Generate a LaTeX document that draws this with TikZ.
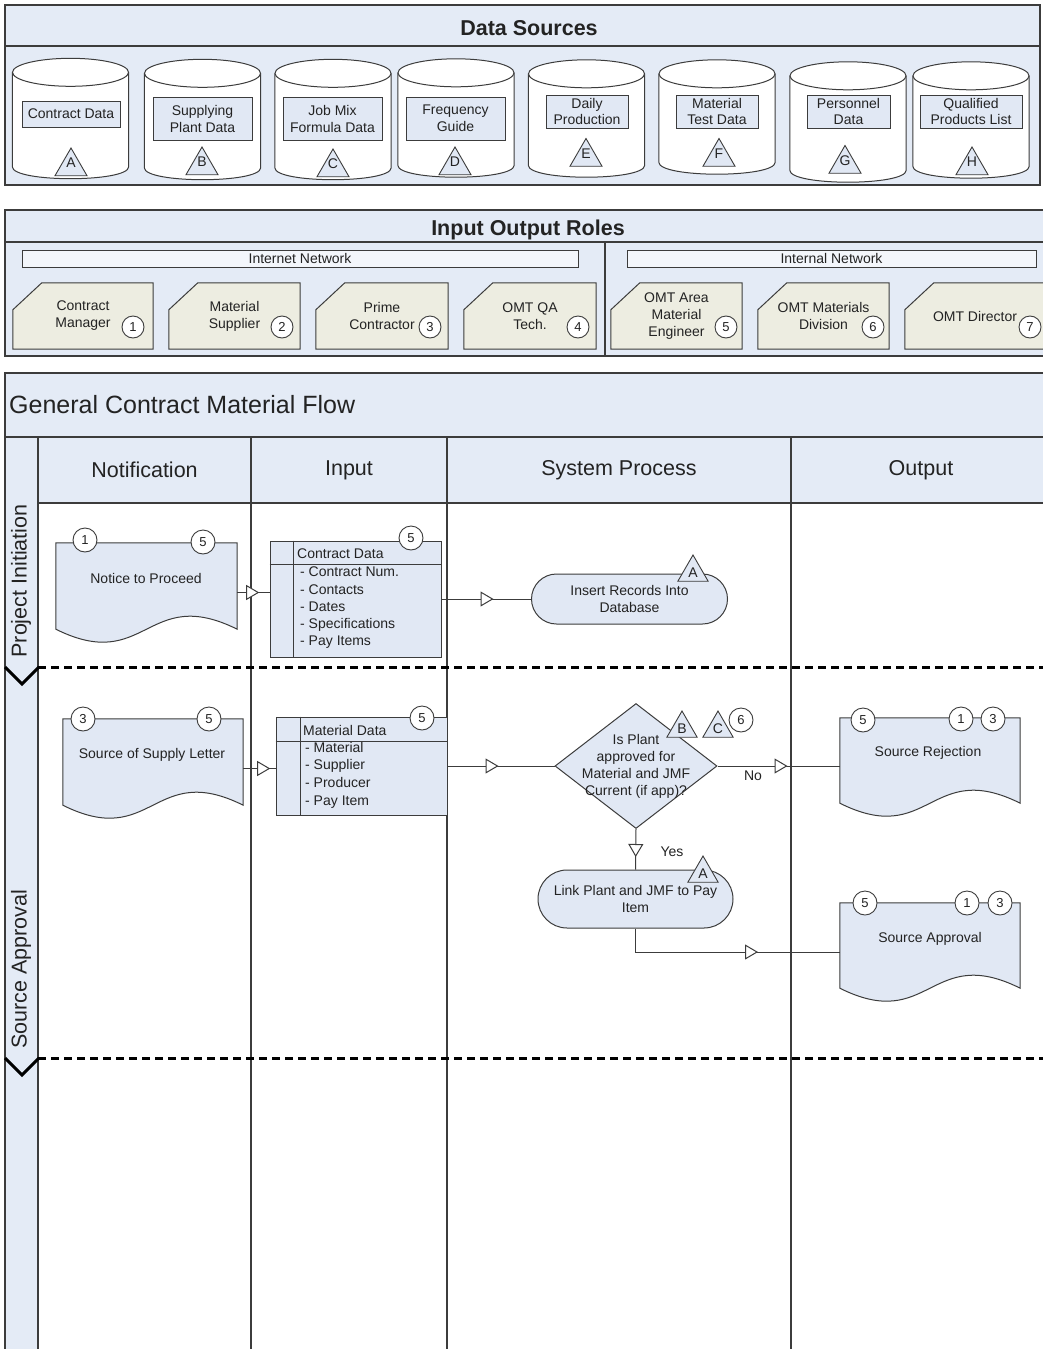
\documentclass[tikz,border=0pt]{standalone}
\usepackage{fontspec}
\setmainfont{Liberation Sans}
\usetikzlibrary{shapes.geometric,arrows.meta,decorations.markings,calc}
\pgfdeclarelayer{bg}
\pgfdeclarelayer{shp}
\pgfsetlayers{bg,shp,main}
\definecolor{panelblue}{RGB}{228,235,246}
\definecolor{shapeblue}{RGB}{225,232,244}
\definecolor{rolebeige}{RGB}{237,237,225}
\definecolor{netfill}{RGB}{243,246,251}
\definecolor{edge}{RGB}{60,60,60}
\definecolor{txt}{RGB}{35,35,35}
\newcommand\cylshape[1]{%
  \draw[draw=edge, fill=white, line width=1pt]
    ($(#1.north west)+(0,14)$) -- ($(#1.south west)+(0,-12)$)
    .. controls ($(#1.south west)+(0,4)$) and ($(#1.south east)+(0,4)$) ..
    ($(#1.south east)+(0,-12)$) -- ($(#1.north east)+(0,14)$);
  \draw[draw=edge, fill=white, line width=1pt] ($(#1.north)+(0,14)$) ellipse [x radius=58, y radius=14];}
\newcommand\docshape[1]{%
  \draw[draw=edge, fill=shapeblue, line width=1pt]
    (#1.north west) -- (#1.north east) -- ($(#1.south east)+(0,-13)$)
    .. controls ($(#1.south)+(0,-58)$) and ($(#1.south)+(0,32)$) ..
    ($(#1.south west)+(0,-13)$) -- cycle;}
\newcommand\cutshape[1]{%
  \draw[draw=edge, fill=rolebeige, line width=1pt]
    ($(#1.north west)+(29,0)$) -- (#1.north east) -- (#1.south east) -- (#1.south west) -- ($(#1.north west)+(0,27)$) -- cycle;}
\newcommand\dsletter[1]{\raisebox{-1pt}[0pt][0pt]{#1}}
\begin{document}
\begin{tikzpicture}[x=1pt,y=-1pt,
  base/.style={text=txt, font=\fontsize{14}{17}\selectfont, inner sep=0pt, align=center},
  hidden/.style={base, rectangle, draw=none, fill=none},
  dsbox/.style={base, rectangle, draw=edge, fill=shapeblue, line width=1pt},
  tri/.style={base, regular polygon, regular polygon sides=3, draw=edge, fill=shapeblue, line width=0.9pt, minimum size=37pt},
  ftri/.style={tri, minimum size=35pt},
  numc/.style={base, circle, draw=edge, fill=white, line width=0.9pt, minimum size=22pt, font=\fontsize{13}{15}\selectfont},
  fnum/.style={numc, minimum size=24pt},
  term/.style={base, rectangle, draw=edge, fill=shapeblue, line width=1pt},
  panel/.style={draw=edge, fill=panelblue, line width=1.2pt},
  pline/.style={draw=edge, line width=1.2pt},
  colline/.style={draw=edge, line width=1.6pt},
  lanesep/.style={draw=black, line width=3pt, dash pattern=on 8pt off 5pt},
  chev/.style={draw=black, line width=3pt},
  bigtitle/.style={text=txt, font=\fontsize{21.5}{26}\selectfont\bfseries, inner sep=0pt},
  head/.style={text=txt, font=\fontsize{21.5}{26}\selectfont, inner sep=0pt},
  netbar/.style={base, rectangle, draw=edge, fill=netfill, line width=1pt, minimum height=17pt},
  flowat/.style={draw=edge, line width=1pt, postaction={decorate},
    decoration={markings, mark=at position #1 with {\arrow{Triangle[length=13pt, width=15pt, fill=white]}}}}
]
\useasboundingbox (0,0) rectangle (1042,1349);

% ---------------- panels (background) ----------------
\begin{pgfonlayer}{bg}
  \fill[white] (0,0) rectangle (1042,1349);
  % Data Sources
  \draw[panel] (5,5) rectangle (1040,185);
  \draw[pline] (5,46) -- (1040,46);
  % Input Output Roles
  \draw[panel] (5,210) rectangle (1050,356);
  \draw[pline] (5,242) -- (1050,242);
  \draw[pline] (605,242) -- (605,356);
  % General Contract Material Flow
  \draw[panel] (5,373) rectangle (1050,1365);
  \fill[white] (38,503) rectangle (1050,1365);
  \draw[pline] (5,437) -- (1050,437);
  \draw[colline] (38,503) -- (1050,503);
  \draw[colline] (38,437) -- (38,1365);
  \draw[colline] (251,437) -- (251,1365);
  \draw[colline] (447,437) -- (447,1365);
  \draw[colline] (791,437) -- (791,1365);
  \draw[lanesep] (38,667) -- (1050,667);
  \draw[lanesep] (38,1058) -- (1050,1058);
  \draw[chev] (5,667) -- (22,684) -- (39,667);
  \draw[chev] (5,1058) -- (22,1075) -- (39,1058);
\end{pgfonlayer}

% ---------------- Data Sources ----------------
\node[bigtitle] (dstitle) at (529,28) {Data Sources};

\node[hidden, minimum width=116pt, minimum height=120pt] (ds1) at (70.5,118.5) {};
\node[hidden, minimum width=116pt, minimum height=120pt] (ds2) at (202.5,119.5) {};
\node[hidden, minimum width=116pt, minimum height=120pt] (ds3) at (333,119.5) {};
\node[hidden, minimum width=116pt, minimum height=118pt] (ds4) at (456,118) {};
\node[hidden, minimum width=116pt, minimum height=117pt] (ds5) at (586.5,118.5) {};
\node[hidden, minimum width=116pt, minimum height=114pt] (ds6) at (717,117) {};
\node[hidden, minimum width=116pt, minimum height=120pt] (ds7) at (848,122) {};
\node[hidden, minimum width=116pt, minimum height=116pt] (ds8) at (971,120) {};
\begin{pgfonlayer}{shp}
  \cylshape{ds1}\cylshape{ds2}\cylshape{ds3}\cylshape{ds4}
  \cylshape{ds5}\cylshape{ds6}\cylshape{ds7}\cylshape{ds8}
\end{pgfonlayer}

\node[dsbox, minimum width=98pt, minimum height=26pt] (ds1l) at (71,114) {Contract Data};
\node[dsbox, minimum width=99pt, minimum height=43pt] (ds2l) at (202.5,118.5) {Supplying\\Plant Data};
\node[dsbox, minimum width=99pt, minimum height=43pt] (ds3l) at (332.5,118.5) {Job Mix\\Formula Data};
\node[dsbox, minimum width=99pt, minimum height=43pt] (ds4l) at (455.5,118.5) {Frequency\\Guide};
\node[dsbox, minimum width=82pt, minimum height=33pt, font=\fontsize{14}{16}\selectfont] (ds5l) at (587,111.5) {Daily\\Production};
\node[dsbox, minimum width=82pt, minimum height=33pt, font=\fontsize{14}{16}\selectfont] (ds6l) at (717,111.5) {Material\\Test Data};
\node[dsbox, minimum width=83pt, minimum height=33pt, font=\fontsize{14}{16}\selectfont] (ds7l) at (848.5,111.5) {Personnel\\Data};
\node[dsbox, minimum width=102pt, minimum height=33pt, font=\fontsize{14}{16}\selectfont] (ds8l) at (971,111.5) {Qualified\\Products List};

\node[tri] (dsA) at (71,166.5) {\dsletter{A}};
\node[tri] (dsB) at (202,165.5) {\dsletter{B}};
\node[tri] (dsC) at (333,167.5) {\dsletter{C}};
\node[tri] (dsD) at (455,165.5) {\dsletter{D}};
\node[tri] (dsE) at (586,157) {\dsletter{E}};
\node[tri] (dsF) at (719,157) {\dsletter{F}};
\node[tri] (dsG) at (845,164) {\dsletter{G}};
\node[tri] (dsH) at (972,165.5) {\dsletter{H}};

% ---------------- Input Output Roles ----------------
\node[bigtitle] (iotitle) at (528,230) {Input Output Roles};
\node[netbar, minimum width=556pt] (inet) at (300,258.5) {Internet Network};
\node[netbar, minimum width=409pt] (intnet) at (831.5,258.5) {Internal Network};

\node[hidden, minimum width=140pt, minimum height=66pt] (r1) at (83,316) {Contract\\Manager};
\node[hidden, minimum width=131pt, minimum height=66pt] (r2) at (234.5,316) {Material\\Supplier};
\node[hidden, minimum width=132pt, minimum height=66pt] (r3) at (382,316) {Prime\\Contractor};
\node[hidden, minimum width=132pt, minimum height=66pt] (r4) at (530,316) {OMT QA\\Tech.};
\node[hidden, minimum width=131pt, minimum height=66pt] (r5) at (676.5,316) {OMT Area\\Material\\Engineer};
\node[hidden, minimum width=131pt, minimum height=66pt] (r6) at (823.5,316) {OMT Materials\\Division};
\node[hidden, minimum width=140pt, minimum height=66pt] (r7) at (975,316) {OMT Director};
\begin{pgfonlayer}{shp}
  \cutshape{r1}\cutshape{r2}\cutshape{r3}\cutshape{r4}\cutshape{r5}\cutshape{r6}\cutshape{r7}
\end{pgfonlayer}
\node[numc] (c1) at (133,327) {1};
\node[numc] (c2) at (282,327) {2};
\node[numc] (c3) at (430,327) {3};
\node[numc] (c4) at (578,327) {4};
\node[numc] (c5) at (726,327) {5};
\node[numc] (c6) at (873,327) {6};
\node[numc] (c7) at (1030,327) {7};

% ---------------- General Contract Material Flow ----------------
\node[head, font=\fontsize{25}{30}\selectfont, anchor=west] (ftitle) at (9,405) {General Contract Material Flow};
\node[head] (hnot) at (144.5,470) {Notification};
\node[head] (hin) at (349,470) {Input};
\node[head] (hsys) at (619,470) {System Process};
\node[head] (hout) at (921,470) {Output};
\node[head, rotate=90] (lane1) at (21,581) {Project Initiation};
\node[head, rotate=90] (lane2) at (21,969) {Source Approval};

% documents
\node[hidden, minimum width=181pt, minimum height=99pt] (notice) at (146.5,592.5) {};
\node[hidden, minimum width=180pt, minimum height=99pt] (supply) at (153,768.5) {};
\node[hidden, minimum width=180pt, minimum height=98pt] (reject) at (930,767) {};
\node[hidden, minimum width=180pt, minimum height=98pt] (approve) at (930,952) {};
\begin{pgfonlayer}{shp}
  \docshape{notice}\docshape{supply}\docshape{reject}\docshape{approve}
\end{pgfonlayer}
\node[base] (noticet) at (146,578) {Notice to Proceed};
\node[base] (supplyt) at (152,755) {Source of Supply Letter};
\node[base] (rejectt) at (928,753) {Source Rejection};
\node[base] (approvet) at (930,939) {Source Approval};

% data boxes
\node[dsbox, minimum width=171pt, minimum height=116pt] (cdata) at (355.5,599) {};
\draw[draw=edge, line width=1pt] ($(cdata.north west)+(24,0)$) -- ($(cdata.south west)+(24,0)$);
\draw[draw=edge, line width=1pt] ($(cdata.north west)+(0,24)$) -- ($(cdata.north east)+(0,24)$);
\node[base, anchor=west] (cdatat) at (297,554) {Contract Data};
\node[base, anchor=north west, align=left, font=\fontsize{14}{17.2}\selectfont] (cdatai) at (300,567)
  {- Contract Num.\\- Contacts\\- Dates\\- Specifications\\- Pay Items};

\node[dsbox, minimum width=171pt, minimum height=98pt] (mdata) at (361.5,766) {};
\draw[draw=edge, line width=1pt] ($(mdata.north west)+(25,0)$) -- ($(mdata.south west)+(25,0)$);
\draw[draw=edge, line width=1pt] ($(mdata.north west)+(0,25)$) -- ($(mdata.north east)+(0,25)$);
\node[base, anchor=west] (mdatat) at (303,730) {Material Data};
\node[base, anchor=north west, align=left, font=\fontsize{14}{17.6}\selectfont] (mdatai) at (305,742)
  {- Material\\- Supplier\\- Producer\\- Pay Item};

% process shapes
\node[term, rounded corners=25pt, minimum width=196pt, minimum height=50pt] (insert) at (629.5,599) {Insert Records Into\\Database};
\node[base, diamond, draw=edge, fill=shapeblue, line width=1pt, minimum width=162pt, minimum height=125pt, aspect=1.3] (dec) at (636,766) {};
\node[base] (dect) at (636,766) {Is Plant\\approved for\\Material and JMF\\Current (if app)?};
\node[term, rounded corners=29pt, minimum width=195pt, minimum height=58pt] (link) at (635.5,899) {Link Plant and JMF to Pay\\Item};

% reference markers
\node[ftri] (tA1) at (693,572.5) {A};
\node[ftri] (tB) at (682,728.5) {B};
\node[ftri] (tC) at (718,728.5) {C};
\node[fnum] (f6) at (741,720) {6};
\node[ftri] (tA2) at (703,873.5) {A};

\node[fnum] (f1a) at (85,540) {1};
\node[fnum] (f1b) at (203,542) {5};
\node[fnum] (f2) at (411,538) {5};
\node[fnum] (f3a) at (83,719) {3};
\node[fnum] (f3b) at (209,719) {5};
\node[fnum] (f4) at (422,718) {5};
\node[fnum] (f7a) at (863,720) {5};
\node[fnum] (f7b) at (961,719) {1};
\node[fnum] (f7c) at (993,719) {3};
\node[fnum] (f8a) at (865,903) {5};
\node[fnum] (f8b) at (967,903) {1};
\node[fnum] (f8c) at (1000,903) {3};

% connectors
\draw[flowat=22pt] (notice.east) -- (notice.east -| cdata.west);
\draw[flowat=52pt] (cdata.east) -- (insert.west);
\draw[flowat=27pt] (supply.east) -- (supply.east -| mdata.west);
\draw[flowat=51pt] (mdata.east) -- (dec.west);
\draw[flowat=70pt] (dec.east) -- (dec.east -| reject.west);
\draw[flowat=28pt] (dec.south) -- (link.north);
\draw[flowat=146pt] (link.south) |- (approve.west);
\node[base] (nolbl) at (753,776) {No};
\node[base] (yeslbl) at (672,852) {Yes};
\end{tikzpicture}
\end{document}
